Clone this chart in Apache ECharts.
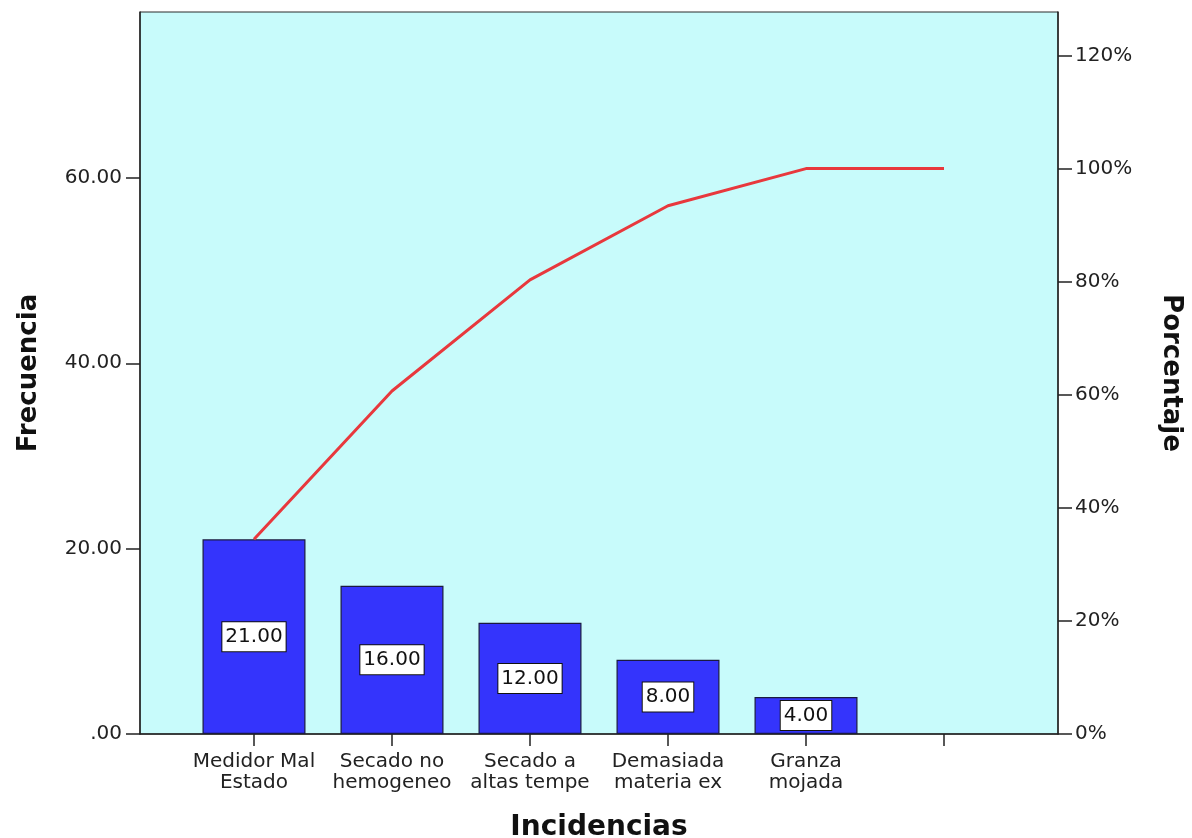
<!DOCTYPE html>
<html>
<head>
<meta charset="utf-8">
<script src="https://cdn.jsdelivr.net/npm/echarts@6/dist/echarts.min.js"></script>
<style>
  html, body { margin: 0; padding: 0; background: #ffffff; }
  #chart { width: 1192px; height: 838px; }
</style>
</head>
<body>
<div id="chart"></div>
<script>
// Pareto chart of incidents: frequency bars plus cumulative percentage line
const categories = [
  'Medidor Mal\nEstado',
  'Secado no\nhemogeneo',
  'Secado a\naltas tempe',
  'Demasiada\nmateria ex',
  'Granza\nmojada',
  ''
];
const frequencies = [21, 16, 12, 8, 4];
const cumulativePct = [34.43, 60.66, 80.33, 93.44, 100, 100];
const leftTicks = [0, 20, 40, 60];
const rightTicks = [0, 20, 40, 60, 80, 100, 120];

const positions = categories.map((_, i) => i);
const barData = frequencies.map((v, i) => [i, v]);
const lineData = cumulativePct.map((v, i) => [i, v]);

const FONT = 'DejaVu Sans';
const chart = echarts.init(document.getElementById('chart'), null, { renderer: 'canvas' });

chart.setOption({
  animation: false,
  backgroundColor: '#ffffff',
  grid: {
    left: 140, right: 134, top: 12, bottom: 104,
    outerBoundsMode: 'none',
    containLabel: false,
    show: true,
    backgroundColor: '#c8fbfb',
    borderColor: '#2a2a2a',
    borderWidth: 1
  },
  xAxis: {
    type: 'value',
    min: -0.826,
    max: 5.826,
    name: 'Incidencias',
    nameLocation: 'middle',
    nameGap: 80,
    nameTextStyle: { fontFamily: FONT, fontWeight: 'bold', fontSize: 28, color: '#111' },
    splitLine: { show: false },
    axisLine: { show: true, onZero: false, lineStyle: { color: '#222', width: 1.5 } },
    axisTick: { show: true, length: 12, customValues: positions, lineStyle: { color: '#222', width: 1.5 } },
    axisLabel: {
      customValues: positions,
      formatter: v => categories[Math.round(v)] || '',
      fontFamily: FONT, fontSize: 20, color: '#222', lineHeight: 21, margin: 17
    }
  },
  yAxis: [
    {
      type: 'value',
      min: 0,
      max: 77.9,
      name: 'Frecuencia',
      nameLocation: 'middle',
      nameGap: 98,
      nameRotate: 90,
      nameTextStyle: { fontFamily: FONT, fontWeight: 'bold', fontSize: 26, color: '#111' },
      splitLine: { show: false },
      axisLine: { show: true, onZero: false, lineStyle: { color: '#222', width: 1.5 } },
      axisTick: { show: true, length: 14, customValues: leftTicks, lineStyle: { color: '#222', width: 1.5 } },
      axisLabel: {
        customValues: leftTicks,
        formatter: v => (v === 0 ? '.00' : v.toFixed(2)),
        fontFamily: FONT, fontSize: 20, color: '#222', margin: 18
      }
    },
    {
      type: 'value',
      min: 0,
      max: 127.7,
      position: 'right',
      name: 'Porcentaje',
      nameLocation: 'middle',
      nameGap: 100,
      nameRotate: -90,
      nameTextStyle: { fontFamily: FONT, fontWeight: 'bold', fontSize: 26, color: '#111' },
      splitLine: { show: false },
      axisLine: { show: true, onZero: false, lineStyle: { color: '#222', width: 1.5 } },
      axisTick: { show: true, length: 14, customValues: rightTicks, lineStyle: { color: '#222', width: 1.5 } },
      axisLabel: {
        customValues: rightTicks,
        formatter: v => v + '%',
        fontFamily: FONT, fontSize: 20, color: '#222', margin: 17
      }
    }
  ],
  series: [
    {
      type: 'bar',
      yAxisIndex: 0,
      data: barData,
      barWidth: 103,
      itemStyle: { color: '#3434fc', borderColor: '#1a1a40', borderWidth: 1.2 },
      label: {
        show: true,
        position: 'inside',
        formatter: p => p.value[1].toFixed(2),
        fontFamily: FONT, fontSize: 20, color: '#111',
        backgroundColor: '#ffffff',
        borderColor: '#111', borderWidth: 1,
        padding: [5, 3, 4, 3]
      },
      z: 2
    },
    {
      type: 'line',
      yAxisIndex: 1,
      data: lineData,
      showSymbol: false,
      symbol: 'none',
      lineStyle: { color: '#e8383d', width: 3 },
      z: 3
    }
  ]
});
</script>
</body>
</html>
